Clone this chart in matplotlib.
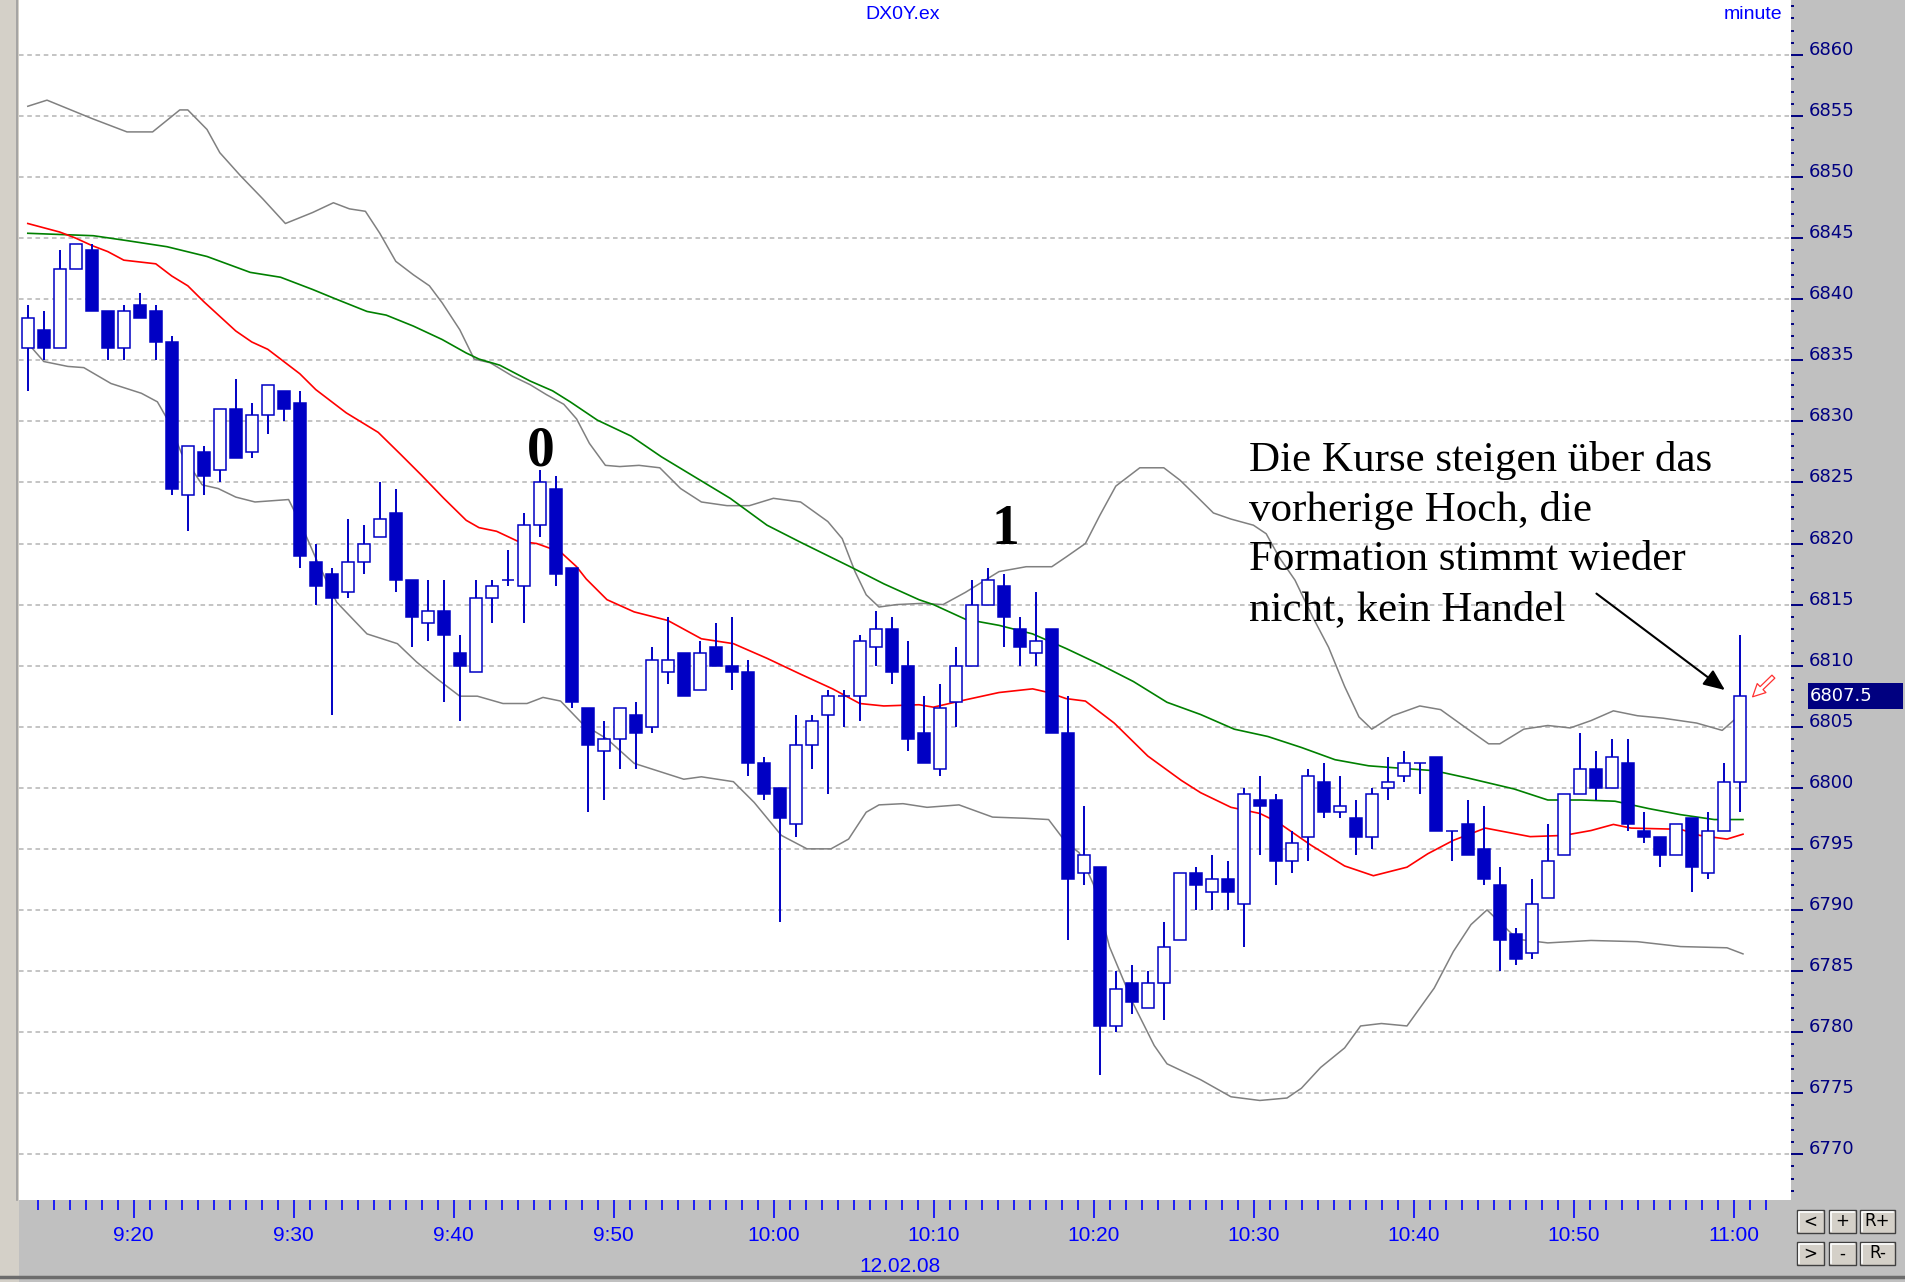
import matplotlib
matplotlib.use('Agg')
import matplotlib.pyplot as plt
from matplotlib.patches import Rectangle
from matplotlib.lines import Line2D
from matplotlib.transforms import blended_transform_factory

# one candle per minute, index 0 = first bar of the screen
opens = [6836, 6837.5, 6836, 6842.5, 6844, 6839, 6836, 6839.5, 6839, 6836.5,
         6824, 6827.5, 6826, 6831, 6827.5, 6830.5, 6832.5, 6831.5, 6818.5, 6817.5,
         6816, 6818.5, 6820.5, 6822.5, 6817, 6813.5, 6814.5, 6811, 6809.5, 6815.5,
         6817, 6816.5, 6821.5, 6824.5, 6818, 6806.5, 6803, 6804, 6806, 6805,
         6809.5, 6811, 6808, 6811.5, 6810, 6809.5, 6802, 6800, 6797, 6803.5,
         6806, 6807.5, 6807.5, 6811.5, 6813, 6810, 6804.5, 6801.5, 6807, 6810,
         6815, 6816.5, 6813, 6811, 6813, 6804.5, 6793, 6793.5, 6780.5, 6784,
         6782, 6784, 6787.5, 6793, 6791.5, 6792.5, 6790.5, 6799, 6799, 6794,
         6796, 6800.5, 6798, 6797.5, 6796, 6800, 6801, 6802, 6802.5, 6796.5,
         6797, 6795, 6792, 6788, 6786.5, 6791, 6794.5, 6799.5, 6801.5, 6800,
         6802, 6796.5, 6796, 6794.5, 6797.5, 6793, 6796.5, 6800.5]
highs = [6839.5, 6839, 6844, 6844.5, 6844.5, 6839, 6839.5, 6840.5, 6839.5, 6837,
         6828, 6828, 6831, 6833.5, 6831.5, 6833, 6832.5, 6832.5, 6820, 6818,
         6822, 6821.5, 6825, 6824.5, 6817, 6817, 6817, 6812.5, 6817, 6817,
         6819.5, 6822.5, 6826, 6825.5, 6818, 6806.5, 6805.5, 6806.5, 6807, 6811.5,
         6814, 6811, 6812, 6813.5, 6814, 6810.5, 6802.5, 6800, 6806, 6806,
         6808, 6808, 6812.5, 6814.5, 6814, 6812, 6807.5, 6808.5, 6811.5, 6817,
         6818, 6817.5, 6814, 6816, 6813, 6807.5, 6798.5, 6793.5, 6785, 6785.5,
         6785, 6789, 6793, 6793.5, 6794.5, 6794, 6800, 6801, 6799.5, 6796.5,
         6801.5, 6802, 6801, 6799, 6800, 6802.5, 6803, 6802, 6802.5, 6796.5,
         6799, 6798.5, 6793.5, 6788.5, 6792.5, 6797, 6799.5, 6804.5, 6803, 6804,
         6804, 6798, 6796, 6797, 6797.5, 6798, 6802, 6812.5]
lows = [6832.5, 6835, 6836, 6842.5, 6839, 6835, 6835, 6838.5, 6835, 6824,
        6821, 6824, 6825, 6827, 6827, 6829, 6830, 6818, 6815, 6806,
        6815.5, 6817.5, 6820.5, 6816, 6811.5, 6812, 6807, 6805.5, 6809.5, 6813.5,
        6816.5, 6813.5, 6820.5, 6816.5, 6806.5, 6798, 6799, 6801.5, 6801.5, 6804.5,
        6808.5, 6807.5, 6808, 6810, 6808, 6801, 6799, 6789, 6796, 6801.5,
        6799.5, 6805, 6805.5, 6810, 6808.5, 6803, 6802, 6801, 6805, 6810,
        6815, 6811.5, 6810, 6810, 6804.5, 6787.5, 6792, 6776.5, 6780, 6781.5,
        6782, 6781, 6787.5, 6790, 6790, 6790, 6787, 6794.5, 6792, 6793,
        6794, 6797.5, 6797.5, 6794.5, 6795, 6799, 6800.5, 6799.5, 6796.5, 6794,
        6794.5, 6792, 6785, 6785.5, 6786, 6791, 6794.5, 6799.5, 6799, 6800,
        6796.5, 6795.5, 6793.5, 6794.5, 6791.5, 6792.5, 6796.5, 6798]
closes = [6838.5, 6836, 6842.5, 6844.5, 6839, 6836, 6839, 6838.5, 6836.5, 6824.5,
          6828, 6825.5, 6831, 6827, 6830.5, 6833, 6831, 6819, 6816.5, 6815.5,
          6818.5, 6820, 6822, 6817, 6814, 6814.5, 6812.5, 6810, 6815.5, 6816.5,
          6817, 6821.5, 6825, 6817.5, 6807, 6803.5, 6804, 6806.5, 6804.5, 6810.5,
          6810.5, 6807.5, 6811, 6810, 6809.5, 6802, 6799.5, 6797.5, 6803.5, 6805.5,
          6807.5, 6807.5, 6812, 6813, 6809.5, 6804, 6802, 6806.5, 6810, 6815,
          6817, 6814, 6811.5, 6812, 6804.5, 6792.5, 6794.5, 6780.5, 6783.5, 6782.5,
          6784, 6787, 6793, 6792, 6792.5, 6791.5, 6799.5, 6798.5, 6794, 6795.5,
          6801, 6798, 6798.5, 6796, 6799.5, 6800.5, 6802, 6802, 6796.5, 6796.5,
          6794.5, 6792.5, 6787.5, 6786, 6790.5, 6794, 6799.5, 6801.5, 6800, 6802.5,
          6797, 6796, 6794.5, 6797, 6793.5, 6796.5, 6800.5, 6807.5]

# indicator lines (bar position, price)
red_x = [0, 2, 3, 4, 5, 6, 8, 9, 10, 11, 12, 13, 14, 15, 16, 17, 18, 19.9, 21.9, 23.3,
         24.6, 26, 27.4, 28.2, 29.3, 30.6, 31.8, 33.3, 34.3, 34.9, 36.2, 37.9, 40, 42.1,
         44.1, 46.2, 48.3, 50.3, 52, 53.5, 55.7, 56.6, 58.6, 60.7, 62.8, 63.8, 64.9, 66.1,
         67.9, 70, 72.1, 73.3, 75.2, 77, 78.1, 80.2, 82.3, 84.1, 86.2, 87.5, 89.1, 91.1,
         93.9, 96, 97.7, 99.1, 100.2, 103.3, 104.5, 106.2, 107.2]
red_y = [6846.2, 6845.5, 6845, 6844.4, 6843.9, 6843.2, 6842.9, 6841.9, 6841.1, 6839.8,
         6838.6, 6837.4, 6836.5, 6835.9, 6834.9, 6833.9, 6832.6, 6830.7, 6829.1, 6827.3,
         6825.6, 6823.7, 6821.9, 6821.3, 6821, 6820.2, 6820, 6819.3, 6818.1, 6817.1,
         6815.4, 6814.4, 6813.7, 6812.2, 6811.8, 6810.6, 6809.3, 6808.1, 6806.9, 6806.7,
         6806.8, 6806.6, 6807.2, 6807.8, 6808.1, 6807.8, 6807.3, 6807.1, 6805.3, 6802.6,
         6800.6, 6799.6, 6798.4, 6797.9, 6797.2, 6795.3, 6793.6, 6792.8, 6793.5, 6794.6,
         6795.7, 6796.7, 6796, 6796.1, 6796.5, 6797, 6796.7, 6796.6, 6796.1, 6795.8, 6796.2]

green_x = [0, 4.1, 6.2, 8.7, 11.2, 13.9, 15.8, 17.8, 19.1, 21.2, 22.4, 24.1, 25.9, 27.4,
           28.2, 29.5, 31.4, 32.8, 33.9, 35.6, 37.7, 39.6, 43.9, 46.2, 48.3, 51.4, 53.5,
           55.7, 56.6, 58.6, 60.7, 62.8, 64.9, 67, 69.1, 71.2, 73.3, 75.4, 77.5, 79.6,
           81.7, 83.8, 85.8, 87.9, 90, 92.9, 95, 97.1, 99.2, 101.3, 103.3, 105.4, 107.2]
green_y = [6845.4, 6845.2, 6844.8, 6844.3, 6843.5, 6842.2, 6841.8, 6840.8, 6840.1, 6839,
           6838.7, 6837.8, 6836.7, 6835.6, 6835.1, 6834.6, 6833.3, 6832.5, 6831.6, 6830.1,
           6828.8, 6827.1, 6823.7, 6821.5, 6820.1, 6818.1, 6816.7, 6815.4, 6815, 6813.8,
           6813.3, 6812.6, 6811.4, 6810.1, 6808.7, 6807, 6806, 6804.8, 6804.2, 6803.3,
           6802.3, 6801.8, 6801.6, 6801.4, 6800.8, 6799.9, 6799, 6799, 6798.9, 6798.3,
           6797.8, 6797.4, 6797.4]

upper_x = [0, 1.2, 4, 6.2, 7.8, 9.5, 10, 11.2, 12, 13.3, 14.7, 16.1, 17.8, 19.1, 20.1,
           21.1, 22, 23, 24.1, 25.1, 25.9, 27, 27.9, 28.9, 30.3, 31.4, 32.4, 33.5, 34.3,
           35.1, 36.1, 37, 38.2, 39.5, 40.8, 42.1, 43.7, 45.1, 46.6, 48.3, 50, 50.9, 51.7,
           52.4, 53.2, 54.3, 55.9, 57.2, 58.6, 60.7, 62.4, 64, 64.9, 66.1, 67, 68, 69.5,
           71, 72, 73.1, 74.1, 75.2, 76.6, 77.4, 78.2, 79.2, 80.3, 81.3, 82.3, 83.2, 84,
           85.3, 87, 88.3, 90, 91.3, 92, 93.5, 95, 96.4, 97.7, 99.1, 100.6, 102.2, 104.3,
           105.9, 106.6, 107.2]
upper_y = [6855.8, 6856.3, 6854.8, 6853.7, 6853.7, 6855.5, 6855.5, 6853.9, 6852, 6850.1,
           6848.2, 6846.2, 6847.1, 6847.9, 6847.4, 6847.2, 6845.4, 6843.1, 6842, 6841.1,
           6839.7, 6837.5, 6835.1, 6834.8, 6833.7, 6833, 6832.2, 6831.4, 6830.2, 6828.2,
           6826.4, 6826.3, 6826.4, 6826.2, 6824.5, 6823.4, 6823.1, 6823.1, 6823.7, 6823.4,
           6821.8, 6820.4, 6817.7, 6815.8, 6814.8, 6815, 6815.1, 6815, 6816, 6817.7,
           6818.1, 6818.1, 6818.9, 6820, 6822.3, 6824.7, 6826.2, 6826.2, 6825.2, 6823.8,
           6822.5, 6822, 6821.5, 6820.8, 6818.9, 6817, 6814, 6811.5, 6808.3, 6805.8,
           6804.8, 6805.9, 6806.7, 6806.4, 6804.8, 6803.6, 6803.6, 6804.8, 6805.1, 6804.9,
           6805.5, 6806.3, 6805.9, 6805.7, 6805.3, 6804.7, 6805.5, 6806]

lower_x = [0, 1, 2.5, 3.5, 5.2, 7.1, 8.1, 8.8, 9.6, 10.9, 11.9, 13, 14.2, 16.3, 17.1, 18,
           19.3, 21.2, 23.1, 24.3, 25.6, 27, 28.1, 29.7, 31.2, 32.2, 33.3, 34.7, 36.2,
           37.9, 41, 42.1, 44.1, 45.4, 47.1, 48.7, 50.2, 51.3, 52.4, 53.2, 54.7, 56.2,
           58.2, 60.3, 62.4, 63.8, 64.9, 65.7, 66.6, 67.6, 69.1, 70.4, 71.2, 73.3, 75.2,
           77, 78.7, 79.6, 80.8, 82.3, 83.3, 84.6, 86.2, 87.9, 89.1, 90.2, 91.2, 93.1, 95,
           97.7, 100.6, 103.3, 106.2, 107.2]
lower_y = [6836.4, 6834.9, 6834.5, 6834.4, 6833.1, 6832.3, 6831.6, 6830, 6827.4, 6824.8,
           6824.5, 6823.8, 6823.4, 6823.6, 6821.5, 6818.8, 6815.2, 6812.6, 6811.8, 6810.3,
           6808.9, 6807.5, 6807.5, 6806.9, 6806.9, 6807.4, 6807.1, 6805.2, 6804, 6802,
           6800.7, 6800.9, 6800.5, 6798.8, 6796.1, 6795, 6795, 6795.8, 6798, 6798.6,
           6798.7, 6798.4, 6798.6, 6797.6, 6797.5, 6797.4, 6795.5, 6794.7, 6792.1, 6787,
           6782.3, 6778.9, 6777.4, 6776.1, 6774.7, 6774.4, 6774.6, 6775.4, 6777.1, 6778.7,
           6780.5, 6780.7, 6780.5, 6783.6, 6786.6, 6788.8, 6790, 6787.6, 6787.3, 6787.5,
           6787.4, 6787, 6786.9, 6786.4]

time_labels = ['9:20', '9:30', '9:40', '9:50', '10:00', '10:10',
               '10:20', '10:30', '10:40', '10:50', '11:00']
price_ticks = list(range(6770, 6861, 5))

W, H = 1905, 1282
BLUE = '#0000c4'
NAVY = '#000080'
narrow = ['Liberation Sans Narrow', 'Liberation Sans', 'DejaVu Sans']


def fig_rect(x, y, w, h):
    # pixel box (top-left origin) -> figure fraction
    return (x / W, 1 - (y + h) / H, w / W, h / H)


def main():
    fig = plt.figure(figsize=(W / 100, H / 100), dpi=100, facecolor='#c0c0c0')
    ax = fig.add_axes([19 / W, 82 / H, 1772 / W, 1200 / H])
    ax.set_xlim(-0.55, 110.2)
    ax.set_ylim(6766.25, 6864.5)
    for s in ax.spines.values():
        s.set_visible(False)

    # grid
    ax.set_yticks(price_ticks)
    ax.set_yticks(range(6767, 6865), minor=True)
    ax.grid(axis='y', which='major', color='#b4b4b4', lw=1.1, ls=(0, (3, 2.4)))
    ax.set_axisbelow(True)

    # bollinger + averages
    ax.plot(upper_x, upper_y, color='#808080', lw=1.1, zorder=2)
    ax.plot(lower_x, lower_y, color='#808080', lw=1.1, zorder=2)
    ax.plot(green_x, green_y, color='#008000', lw=1.2, zorder=2)
    ax.plot(red_x, red_y, color='#ff0000', lw=1.2, zorder=2)

    # candles
    n = len(closes)
    xs = list(range(n))
    ax.vlines(xs, lows, highs, color=BLUE, lw=1.4, zorder=3)
    bottoms = [min(o, c) for o, c in zip(opens, closes)]
    heights = [abs(c - o) for o, c in zip(opens, closes)]
    faces = ['white' if c >= o else BLUE for o, c in zip(opens, closes)]
    ax.bar(xs, heights, bottom=bottoms, width=0.72, color=faces,
           edgecolor=BLUE, linewidth=1.1, zorder=4)

    # x axis: a tick every minute, label every 10 minutes
    shift = -0.38
    ax.set_xticks([k + shift for k in range(1, 110)], minor=True)
    ax.set_xticks([k + shift for k in range(7, 108, 10)], time_labels)
    ax.tick_params(axis='x', which='major', length=13, width=1.2, color='#0000ff',
                   labelcolor='#0000ff', labelsize=15, pad=6)
    ax.tick_params(axis='x', which='minor', length=7, width=1.2, color='#0000ff')
    for t in ax.get_xticklabels():
        t.set_fontfamily(narrow)

    # y axis on the right
    ax.yaxis.tick_right()
    ax.tick_params(axis='y', which='major', length=8.5, width=1.4, color=NAVY,
                   labelcolor=NAVY, labelsize=13, pad=4)
    ax.tick_params(axis='y', which='minor', length=2.5, width=1.4, color=NAVY)
    for t in ax.get_yticklabels():
        t.set_verticalalignment('baseline')

    # last price box
    bt = blended_transform_factory(ax.transAxes, ax.transData)
    ax.add_patch(Rectangle((1.0096, closes[-1] - 1.05), 0.0536, 2.1, transform=bt,
                           facecolor=NAVY, edgecolor='none', clip_on=False, zorder=10))
    ax.text(1.0107, closes[-1], f'{closes[-1]:.1f}', transform=bt, color='white',
            fontsize=13, va='center', ha='left', clip_on=False, zorder=11)

    # titles
    ax.text(0.4989, 0.988, 'DX0Y.ex', transform=ax.transAxes, ha='center', va='center',
            color='#0000ff', fontsize=14, family=narrow)
    ax.text(0.9949, 0.988, 'minute', transform=ax.transAxes, ha='right', va='center',
            color='#0000ff', fontsize=14, family=narrow)
    ax.text(54.5, -0.055, '12.02.08', transform=blended_transform_factory(ax.transData, ax.transAxes),
            ha='center', va='center', color='#0000ff', fontsize=15, family=narrow, clip_on=False)

    # annotations
    ax.text(32.07, 6826.4, '0', fontsize=40, fontweight='bold', family='Liberation Serif',
            ha='center', va='baseline', zorder=6)
    ax.text(61.07, 6820.0, '1', fontsize=40, fontweight='bold', family='Liberation Serif',
            ha='center', va='baseline', zorder=6)
    ax.text(76.3, 6828.4, 'Die Kurse steigen über das\nvorherige Hoch, die\n'
            'Formation stimmt wieder\nnicht, kein Handel',
            fontsize=31, family='Liberation Serif', ha='left', va='top',
            linespacing=1.37, zorder=6)
    ax.annotate('', xy=(106.07, 6808.0), xytext=(98.04, 6815.9),
                arrowprops=dict(arrowstyle='-|>,head_length=1.3,head_width=0.55',
                                color='black', lw=1.5, shrinkA=0, shrinkB=0), zorder=6)
    ax.annotate('', xy=(107.8, 6807.45), xytext=(109.1, 6809.1), annotation_clip=False,
                arrowprops=dict(arrowstyle='simple,head_length=0.9,head_width=0.9,tail_width=0.3',
                                fc='white', ec='#ff3030', lw=0.9, shrinkA=0, shrinkB=0), zorder=6)

    # window chrome: left frame, bottom edge, zoom buttons
    fig.add_artist(Rectangle(fig_rect(0, 0, 19, H)[:2], 19 / W, 1, transform=fig.transFigure,
                             facecolor='#d4d0c8', edgecolor='none', zorder=0))
    fig.add_artist(Line2D([17 / W, 17 / W], [82 / H, 1], transform=fig.transFigure,
                          color='#9c9c9c', lw=1.2))
    fig.add_artist(Line2D([0, 1], [5 / H, 5 / H], transform=fig.transFigure,
                          color='#6c6c6c', lw=2.5))
    buttons = [('<', 1797, 1210, 27), ('+', 1829, 1210, 27), ('R+', 1860, 1210, 35),
               ('>', 1797, 1242, 27), ('-', 1829, 1242, 27), ('R-', 1860, 1242, 35)]
    for label, bx, by, bw in buttons:
        x0, y0, w0, h0 = fig_rect(bx, by, bw, 23)
        fig.add_artist(Rectangle((x0, y0), w0, h0, transform=fig.transFigure,
                                 facecolor='#d4d0c8', edgecolor='#404040', lw=1.0))
        fig.add_artist(Line2D([x0 + 1.5 / W, x0 + 1.5 / W, x0 + w0 - 2 / W],
                              [y0 + 2 / H, y0 + h0 - 1.5 / H, y0 + h0 - 1.5 / H],
                              transform=fig.transFigure, color='white', lw=1.2))
        fig.text(x0 + w0 / 2, y0 + h0 / 2, label, ha='center', va='center',
                 fontsize=12, color='black')

    fig.savefig('out.png', dpi=100, facecolor=fig.get_facecolor())


if __name__ == '__main__':
    main()
